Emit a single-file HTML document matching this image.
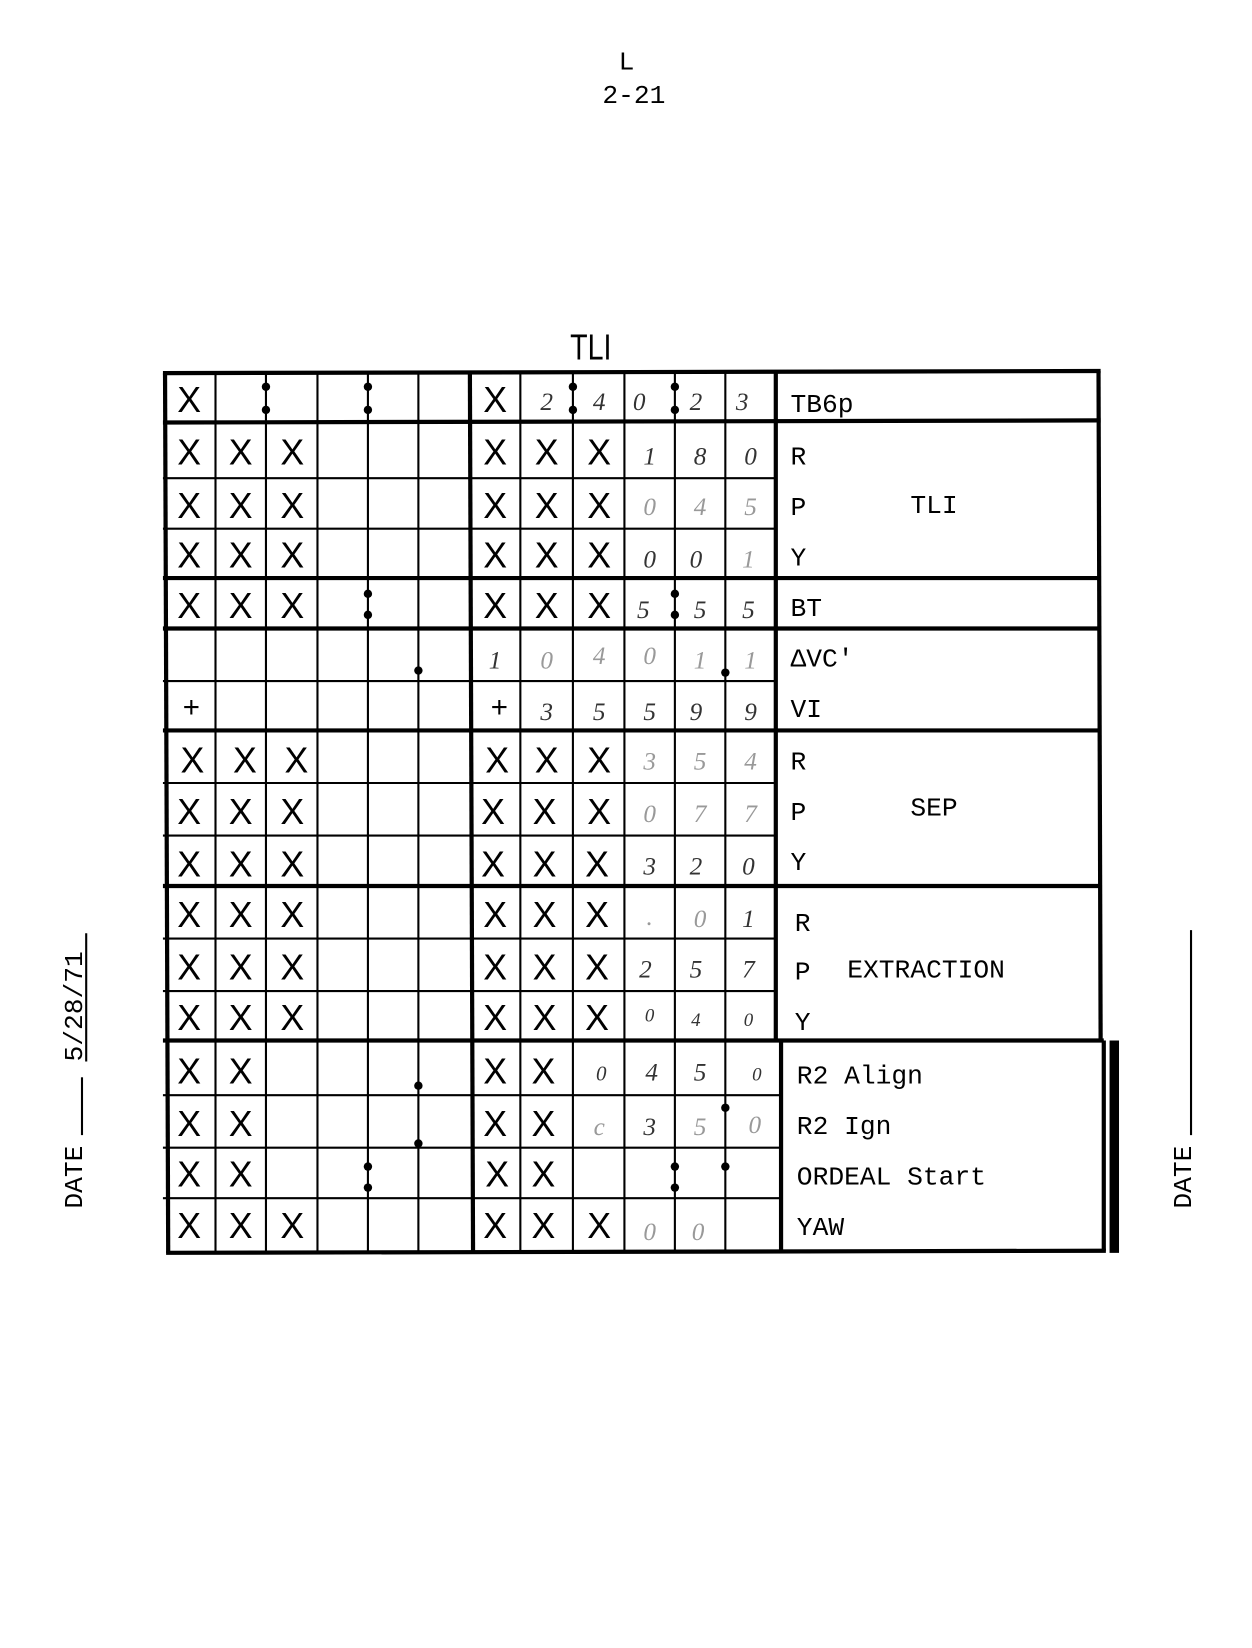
<!DOCTYPE html>
<html><head><meta charset="utf-8"><style>
html,body{margin:0;padding:0;background:#fff;}
svg{display:block;}
.x{font-family:"Liberation Sans",sans-serif;font-size:34px;text-anchor:middle;}
.h{font-family:"Liberation Serif",serif;font-style:italic;font-size:24px;text-anchor:middle;fill:#333;}
.f{fill:#999;}
.l{font-family:"Liberation Mono",monospace;font-size:25px;}
</style></head><body>
<svg width="1252" height="1648" viewBox="0 0 1191 1568" preserveAspectRatio="none" xmlns="http://www.w3.org/2000/svg">
<rect width="1191" height="1568" fill="#fff"/>
<text x="596" y="66" class="l" text-anchor="middle" font-size="24">L</text>
<text x="603" y="98" class="l" text-anchor="middle" font-size="24">2-21</text>
<text x="562" y="342" font-family="Liberation Sans,sans-serif" font-size="34" text-anchor="middle" transform="translate(562 0) scale(0.8 1) translate(-562 0)">TLI</text>
<!-- side dates -->
<g transform="translate(78 1150) rotate(-90)"><text x="0" y="0" class="l" font-size="24">DATE</text><line x1="70" y1="0" x2="125" y2="0" stroke="#000" stroke-width="2"/><text x="140" y="0" class="l" font-size="24">5/28/71</text><line x1="140" y1="4" x2="262" y2="4" stroke="#000" stroke-width="2"/></g>
<g transform="translate(1133 1150) rotate(-90)"><text x="0" y="0" class="l" font-size="24">DATE</text><line x1="70" y1="0" x2="265" y2="0" stroke="#000" stroke-width="2"/></g>
<g stroke="#000" fill="none">
<!-- thin verticals -->
<g stroke-width="2">
<line x1="205" y1="355" x2="205" y2="1192"/><line x1="253" y1="355" x2="253" y2="1192"/><line x1="302" y1="355" x2="302" y2="1192"/><line x1="350" y1="355" x2="350" y2="1192"/><line x1="398" y1="355" x2="398" y2="1192"/>
<line x1="495" y1="355" x2="495" y2="1192"/><line x1="545" y1="355" x2="545" y2="1192"/><line x1="594" y1="355" x2="594" y2="1192"/><line x1="642" y1="355" x2="642" y2="1192"/><line x1="690" y1="355" x2="690" y2="1192"/>
<!-- thin horizontals -->
<line x1="155" y1="455" x2="738" y2="455"/><line x1="155" y1="503" x2="738" y2="503"/>
<line x1="155" y1="648" x2="738" y2="648"/>
<line x1="155" y1="745" x2="738" y2="745"/><line x1="155" y1="795" x2="738" y2="795"/>
<line x1="155" y1="893" x2="738" y2="893"/><line x1="155" y1="943" x2="738" y2="943"/>
<line x1="155" y1="1042" x2="743" y2="1042"/><line x1="155" y1="1092" x2="743" y2="1092"/><line x1="155" y1="1140" x2="743" y2="1140"/>
</g>
<g stroke-width="4">
<line x1="155" y1="355" x2="1047" y2="353"/>
<line x1="155" y1="402" x2="1047" y2="400"/>
<line x1="155" y1="550" x2="1047" y2="550"/>
<line x1="155" y1="598" x2="1047" y2="598"/>
<line x1="155" y1="695" x2="1047" y2="695"/>
<line x1="155" y1="843" x2="1047" y2="843"/>
<line x1="155" y1="990" x2="1050" y2="990"/>
<line x1="158" y1="1192" x2="1052" y2="1190"/>
<line x1="157" y1="355" x2="160" y2="1192"/>
<line x1="447" y1="355" x2="450" y2="1192"/>
<line x1="738" y1="355" x2="738" y2="990"/>
<line x1="743" y1="990" x2="743" y2="1192"/>
<line x1="1045" y1="353" x2="1047" y2="990"/>
<line x1="1050" y1="990" x2="1050" y2="1190"/>
</g>
<line x1="1060" y1="990" x2="1060" y2="1192" stroke-width="9"/>
</g>
<!-- dots -->
<g fill="#000">
<circle cx="253" cy="368" r="4"/><circle cx="253" cy="390" r="4"/><circle cx="350" cy="368" r="4"/><circle cx="350" cy="390" r="4"/>
<circle cx="545" cy="368" r="4"/><circle cx="545" cy="390" r="4"/><circle cx="642" cy="368" r="4"/><circle cx="642" cy="390" r="4"/>
<circle cx="350" cy="565" r="4"/><circle cx="350" cy="585" r="4"/><circle cx="642" cy="565" r="4"/><circle cx="642" cy="585" r="4"/>
<circle cx="398" cy="638" r="4"/><circle cx="690" cy="640" r="4"/>
<circle cx="398" cy="1033" r="4"/><circle cx="690" cy="1054" r="4"/>
<circle cx="398" cy="1088" r="4"/><circle cx="690" cy="1110" r="4"/>
<circle cx="350" cy="1110" r="4"/><circle cx="350" cy="1130" r="4"/><circle cx="642" cy="1110" r="4"/><circle cx="642" cy="1130" r="4"/>
</g>
<!-- X marks -->
<g class="x">
<text x="180" y="392">X</text><text x="471" y="392">X</text>
<text x="180" y="442">X</text><text x="229" y="442">X</text><text x="278" y="442">X</text><text x="471" y="442">X</text><text x="520" y="442">X</text><text x="570" y="442">X</text>
<text x="180" y="493">X</text><text x="229" y="493">X</text><text x="278" y="493">X</text><text x="471" y="493">X</text><text x="520" y="493">X</text><text x="570" y="493">X</text>
<text x="180" y="540">X</text><text x="229" y="540">X</text><text x="278" y="540">X</text><text x="471" y="540">X</text><text x="520" y="540">X</text><text x="570" y="540">X</text>
<text x="180" y="588">X</text><text x="229" y="588">X</text><text x="278" y="588">X</text><text x="471" y="588">X</text><text x="520" y="588">X</text><text x="570" y="588">X</text>
<text x="182" y="682" font-size="28">+</text><text x="475" y="682" font-size="28">+</text>
<text x="183" y="735">X</text><text x="233" y="735">X</text><text x="282" y="735">X</text><text x="473" y="735">X</text><text x="520" y="735">X</text><text x="570" y="735">X</text>
<text x="180" y="784">X</text><text x="229" y="784">X</text><text x="278" y="784">X</text><text x="469" y="784">X</text><text x="518" y="784">X</text><text x="570" y="784">X</text>
<text x="180" y="834">X</text><text x="229" y="834">X</text><text x="278" y="834">X</text><text x="469" y="834">X</text><text x="518" y="834">X</text><text x="568" y="834">X</text>
<text x="180" y="882">X</text><text x="229" y="882">X</text><text x="278" y="882">X</text><text x="471" y="882">X</text><text x="518" y="882">X</text><text x="568" y="882">X</text>
<text x="180" y="932">X</text><text x="229" y="932">X</text><text x="278" y="932">X</text><text x="471" y="932">X</text><text x="518" y="932">X</text><text x="568" y="932">X</text>
<text x="180" y="980">X</text><text x="229" y="980">X</text><text x="278" y="980">X</text><text x="471" y="980">X</text><text x="518" y="980">X</text><text x="568" y="980">X</text>
<text x="180" y="1031">X</text><text x="229" y="1031">X</text><text x="471" y="1031">X</text><text x="517" y="1031">X</text>
<text x="180" y="1081">X</text><text x="229" y="1081">X</text><text x="471" y="1081">X</text><text x="517" y="1081">X</text>
<text x="180" y="1129">X</text><text x="229" y="1129">X</text><text x="473" y="1129">X</text><text x="517" y="1129">X</text>
<text x="180" y="1178">X</text><text x="229" y="1178">X</text><text x="278" y="1178">X</text><text x="471" y="1178">X</text><text x="517" y="1178">X</text><text x="570" y="1178">X</text>
</g>
<!-- handwritten digits -->
<g class="h">
<text x="520" y="390">2</text><text x="570" y="390">4</text><text x="608" y="390">0</text><text x="662" y="390">2</text><text x="706" y="390">3</text>
<text x="618" y="442">1</text><text x="666" y="442">8</text><text x="714" y="442">0</text>
<text x="618" y="490" class="h f">0</text><text x="666" y="490" class="h f">4</text><text x="714" y="490" class="h f">5</text>
<text x="618" y="540">0</text><text x="662" y="540">0</text><text x="712" y="540" class="h f">1</text>
<text x="612" y="588">5</text><text x="666" y="588">5</text><text x="712" y="588">5</text>
<text x="471" y="636">1</text><text x="520" y="636" class="h f">0</text><text x="570" y="632" class="h f">4</text><text x="618" y="632" class="h f">0</text><text x="666" y="636" class="h f">1</text><text x="714" y="636" class="h f">1</text>
<text x="520" y="685">3</text><text x="570" y="685">5</text><text x="618" y="685">5</text><text x="662" y="685">9</text><text x="714" y="685">9</text>
<text x="618" y="732" class="h f">3</text><text x="666" y="732" class="h f">5</text><text x="714" y="732" class="h f">4</text>
<text x="618" y="782" class="h f">0</text><text x="666" y="782" class="h f">7</text><text x="714" y="782" class="h f">7</text>
<text x="618" y="832">3</text><text x="662" y="832">2</text><text x="712" y="832">0</text>
<text x="618" y="880" class="h f">.</text><text x="666" y="882" class="h f">0</text><text x="712" y="882">1</text>
<text x="614" y="930">2</text><text x="662" y="930">5</text><text x="712" y="930">7</text>
<text x="618" y="972" font-size="18">0</text><text x="662" y="976" font-size="18">4</text><text x="712" y="976" font-size="18">0</text>
<text x="572" y="1028" font-size="20">0</text><text x="620" y="1028">4</text><text x="666" y="1028">5</text><text x="720" y="1028" font-size="18">0</text>
<text x="570" y="1080" font-size="18" class="h f">c</text><text x="618" y="1080">3</text><text x="666" y="1080" class="h f">5</text><text x="718" y="1078" class="h f">0</text>
<text x="618" y="1180" class="h f">0</text><text x="664" y="1180" class="h f">0</text>
</g>
<!-- labels -->
<g class="l">
<text x="752" y="392">TB6p</text>
<text x="752" y="442">R</text><text x="752" y="490">P</text><text x="866" y="488">TLI</text><text x="752" y="538">Y</text>
<text x="752" y="586">BT</text>
<text x="752" y="634">ΔVC'</text><text x="752" y="682">VI</text>
<text x="752" y="732">R</text><text x="752" y="780">P</text><text x="866" y="776">SEP</text><text x="752" y="828">Y</text>
<text x="756" y="886">R</text><text x="756" y="932">P</text><text x="806" y="930">EXTRACTION</text><text x="756" y="980">Y</text>
<text x="758" y="1031">R2 Align</text><text x="758" y="1079">R2 Ign</text><text x="758" y="1127">ORDEAL Start</text><text x="758" y="1175">YAW</text>
</g>
</svg>
</body></html>
